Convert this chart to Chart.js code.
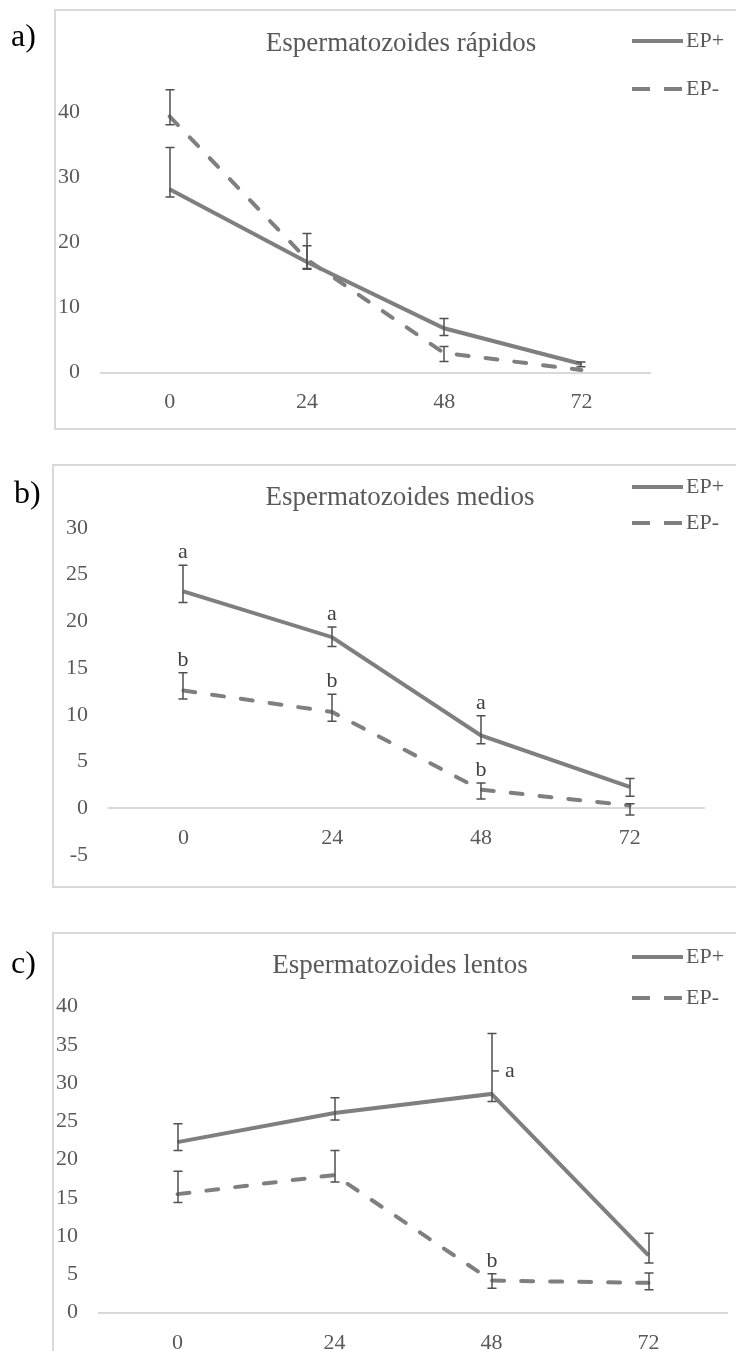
<!DOCTYPE html>
<html>
<head>
<meta charset="utf-8">
<script src="https://cdn.jsdelivr.net/npm/chart.js@4.4.0/dist/chart.umd.min.js"></script>
<style>
    html, body { margin: 0; padding: 0; background: #fff; overflow: hidden; }
    body { width: 736px; height: 1351px; position: relative; }
    .marco { position: absolute; border: 2px solid #d9d9d9; box-sizing: border-box; }
    canvas { position: absolute; left: 0; }
</style>
</head>
<body>
<div class="marco" style="left:54px; top:9px; width:760px; height:421px;"></div>
<div class="marco" style="left:52px; top:464px; width:760px; height:424px;"></div>
<div class="marco" style="left:52px; top:932px; width:760px; height:500px;"></div>
<canvas id="canvas1" width="736" height="440" style="top:0px"></canvas>
<canvas id="canvas2" width="736" height="450" style="top:440px"></canvas>
<canvas id="canvas3" width="736" height="461" style="top:890px"></canvas>
<script>
const horas = ['0', '24', '48', '72'];

// a) espermatozoides rapidos
const rapidosEPmas = [28.2, 17.0, 6.8, 1.3];
const rapidosEPmasSup = [34.6, 19.5, 8.3, 1.6];
const rapidosEPmasInf = [27.0, 15.9, 5.7, 0.9];
const rapidosEPmenos = [39.4, 17.4, 3.0, 0.4];
const rapidosEPmenosSup = [43.5, 21.4, 4.0, 0.4];
const rapidosEPmenosInf = [38.1, 16.0, 1.7, 0.4];
const rapidosTicks = [0, 10, 20, 30, 40];

// b) espermatozoides medios
const mediosEPmas = [23.2, 18.3, 7.8, 2.3];
const mediosEPmasSup = [26.0, 19.4, 9.9, 3.2];
const mediosEPmasInf = [22.0, 17.3, 6.9, 1.3];
const mediosEPmenos = [12.6, 10.3, 2.0, 0.3];
const mediosEPmenosSup = [14.5, 12.2, 2.7, 0.5];
const mediosEPmenosInf = [11.7, 9.3, 1.0, -0.7];
const mediosLetrasEPmas = ['a', 'a', 'a', ''];
const mediosLetrasEPmenos = ['b', 'b', 'b', ''];
const mediosTicks = [-5, 0, 5, 10, 15, 20, 25, 30];

// c) espermatozoides lentos
const lentosEPmas = [22.3, 26.1, 28.6, 7.5];
const lentosEPmasSup = [24.7, 28.1, 36.5, 10.4];
const lentosEPmasInf = [21.2, 25.2, 27.6, 6.5];
const lentosEPmenos = [15.5, 18.0, 4.2, 3.9];
const lentosEPmenosSup = [18.5, 21.2, 5.1, 5.2];
const lentosEPmenosInf = [14.4, 17.1, 3.2, 3.0];
const lentosLetrasEPmas = ['', '', 'a', ''];
const lentosLetrasEPmenos = ['', '', 'b', ''];
const lentosTicks = [0, 5, 10, 15, 20, 25, 30, 35, 40];

const serif = '"Liberation Serif", "Times New Roman", serif';
const lineaGris = '#7f7f7f';
const textoGris = '#595959';
const barraGris = '#505050';

Chart.defaults.font.family = serif;

function makePanel(id, p) {
    let ctx = document.getElementById(id).getContext('2d');

    let decoracion = {
        id: 'decoracion',
        afterDatasetsDraw: function (chart) {
            let c = chart.ctx;
            let yScale = chart.scales.y;
            c.save();
            chart.data.datasets.forEach(function (ds, i) {
                let meta = chart.getDatasetMeta(i);
                meta.data.forEach(function (pt, j) {
                    let x = Math.round(pt.x);
                    let yHi = yScale.getPixelForValue(ds.sup[j]);
                    let yLo = yScale.getPixelForValue(ds.inf[j]);
                    c.strokeStyle = barraGris;
                    c.lineWidth = 1.5;
                    if (ds.sup[j] !== ds.inf[j]) {
                        c.beginPath();
                        c.moveTo(x, yHi);
                        c.lineTo(x, yLo);
                        c.moveTo(x - 4.5, yHi);
                        c.lineTo(x + 4.5, yHi);
                        c.moveTo(x - 4.5, yLo);
                        c.lineTo(x + 4.5, yLo);
                        c.stroke();
                    }
                    let letra = ds.letras ? ds.letras[j] : '';
                    if (!letra) {
                        return;
                    }
                    c.fillStyle = '#404040';
                    c.font = '22px ' + serif;
                    if (ds.letraAlLado) {
                        let yv = yScale.getPixelForValue(ds.data[j]);
                        let ym = yv - 0.38 * (yv - yHi);
                        c.beginPath();
                        c.moveTo(x, ym);
                        c.lineTo(x + 7, ym);
                        c.stroke();
                        c.textAlign = 'left';
                        c.textBaseline = 'middle';
                        c.fillText(letra, x + 13, ym);
                    } else {
                        c.textAlign = 'center';
                        c.textBaseline = 'alphabetic';
                        c.fillText(letra, x, yHi - 7);
                    }
                });
            });
            c.restore();
        },
        afterDraw: function (chart) {
            let c = chart.ctx;
            c.save();
            // letra del panel
            c.fillStyle = '#000';
            c.font = '32px ' + serif;
            c.textAlign = 'left';
            c.textBaseline = 'alphabetic';
            c.fillText(p.panel, p.panelX, p.panelY - p.top);
            // titulo
            c.fillStyle = textoGris;
            c.font = '27px ' + serif;
            c.textAlign = 'center';
            c.fillText(p.titulo, p.tituloX, p.tituloY - p.top);
            // leyenda
            c.strokeStyle = lineaGris;
            c.lineWidth = 4;
            c.setLineDash([]);
            c.beginPath();
            c.moveTo(632, p.leyendaY[0] - p.top);
            c.lineTo(683, p.leyendaY[0] - p.top);
            c.stroke();
            c.setLineDash([18, 14]);
            c.beginPath();
            c.moveTo(632, p.leyendaY[1] - p.top);
            c.lineTo(683, p.leyendaY[1] - p.top);
            c.stroke();
            c.setLineDash([]);
            c.font = '22px ' + serif;
            c.textAlign = 'left';
            c.textBaseline = 'middle';
            c.fillText('EP+', 686, p.leyendaY[0] - p.top);
            c.fillText('EP-', 686, p.leyendaY[1] - p.top);
            c.restore();
        }
    };

    return new Chart(ctx, {
        type: 'line',
        data: {
            labels: horas,
            datasets: [
                {
                    label: 'EP+',
                    data: p.mas,
                    sup: p.masSup,
                    inf: p.masInf,
                    letras: p.letrasMas,
                    letraAlLado: p.letraAlLado,
                    borderColor: lineaGris,
                    borderWidth: 4,
                    pointRadius: 0,
                    tension: 0,
                    fill: false
                },
                {
                    label: 'EP-',
                    data: p.menos,
                    sup: p.menosSup,
                    inf: p.menosInf,
                    letras: p.letrasMenos,
                    borderColor: lineaGris,
                    borderWidth: 4,
                    borderDash: [12, 17],
                    borderCapStyle: 'round',
                    pointRadius: 0,
                    tension: 0,
                    fill: false
                }
            ]
        },
        options: {
            responsive: false,
            animation: false,
            layout: {
                padding: {
                    left: p.left - 60,
                    right: 736 - p.right,
                    top: p.plotTop - p.top,
                    bottom: p.top + p.height - p.plotBottom
                }
            },
            plugins: {
                legend: {display: false},
                tooltip: {enabled: false}
            },
            scales: {
                x: {
                    position: {y: 0},
                    offset: true,
                    grid: {display: false, drawTicks: false},
                    border: {display: true, color: '#d9d9d9', width: 2},
                    ticks: {color: textoGris, padding: 17, font: {size: 22, family: serif}},
                    afterFit: function (s) {
                        s.height = 0;
                    }
                },
                y: {
                    min: p.min,
                    max: p.max,
                    grid: {display: false, drawTicks: false},
                    border: {display: false},
                    ticks: {color: textoGris, padding: 21, font: {size: 22, family: serif}},
                    afterFit: function (s) {
                        s.width = 60;
                    },
                    afterBuildTicks: function (s) {
                        s.ticks = p.ticks.map(v => ({value: v}));
                    }
                }
            }
        },
        plugins: [decoracion]
    });
}

makePanel('canvas1', {
    top: 0, height: 440, left: 101, right: 650, plotTop: 47.5, plotBottom: 372.5,
    min: 0, max: 50, ticks: rapidosTicks,
    mas: rapidosEPmas, masSup: rapidosEPmasSup, masInf: rapidosEPmasInf,
    menos: rapidosEPmenos, menosSup: rapidosEPmenosSup, menosInf: rapidosEPmenosInf,
    titulo: 'Espermatozoides rápidos', tituloX: 401, tituloY: 51,
    panel: 'a)', panelX: 11, panelY: 46,
    leyendaY: [41, 89]
});

makePanel('canvas2', {
    top: 440, height: 450, left: 109, right: 704, plotTop: 527.8, plotBottom: 855.1,
    min: -5, max: 30, ticks: mediosTicks,
    mas: mediosEPmas, masSup: mediosEPmasSup, masInf: mediosEPmasInf,
    menos: mediosEPmenos, menosSup: mediosEPmenosSup, menosInf: mediosEPmenosInf,
    letrasMas: mediosLetrasEPmas, letrasMenos: mediosLetrasEPmenos,
    titulo: 'Espermatozoides medios', tituloX: 400, tituloY: 505,
    panel: 'b)', panelX: 14, panelY: 503,
    leyendaY: [487, 523]
});

makePanel('canvas3', {
    top: 890, height: 461, left: 99, right: 727, plotTop: 1006.7, plotBottom: 1312.7,
    min: 0, max: 40, ticks: lentosTicks,
    mas: lentosEPmas, masSup: lentosEPmasSup, masInf: lentosEPmasInf,
    menos: lentosEPmenos, menosSup: lentosEPmenosSup, menosInf: lentosEPmenosInf,
    letrasMas: lentosLetrasEPmas, letrasMenos: lentosLetrasEPmenos, letraAlLado: true,
    titulo: 'Espermatozoides lentos', tituloX: 400, tituloY: 973,
    panel: 'c)', panelX: 11, panelY: 973,
    leyendaY: [957, 998]
});
</script>
</body>
</html>
